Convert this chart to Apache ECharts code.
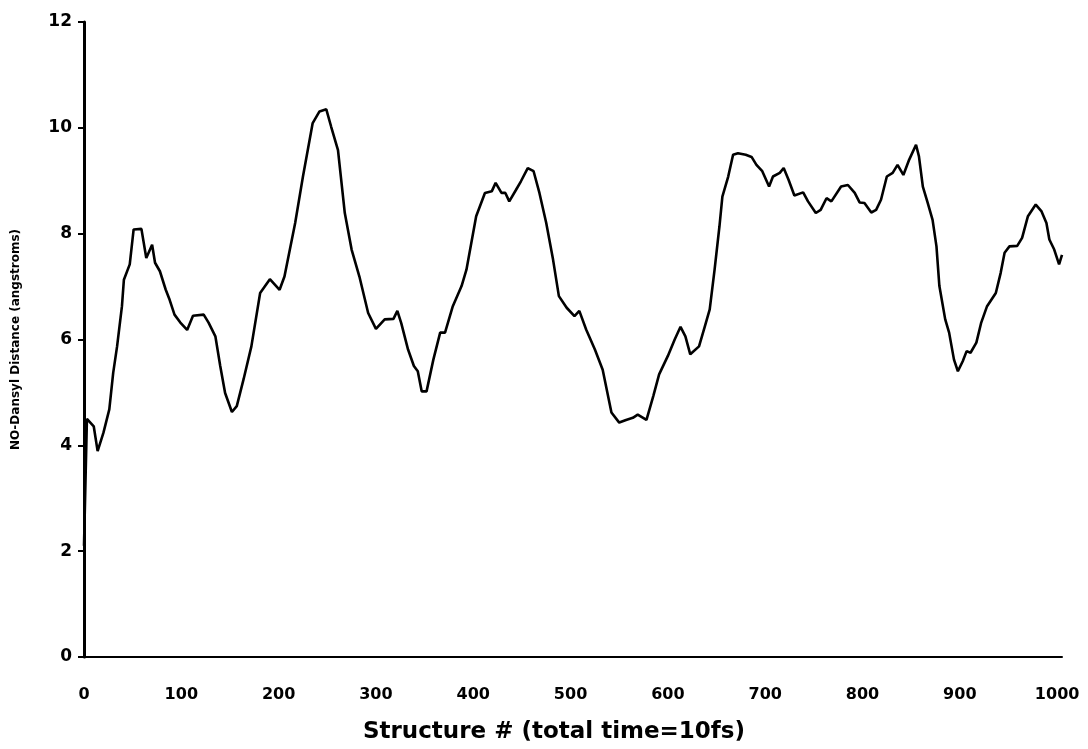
<!DOCTYPE html>
<html>
<head>
<meta charset="utf-8">
<script src="https://cdn.jsdelivr.net/npm/echarts@6/dist/echarts.min.js"></script>
<style>
html,body{margin:0;padding:0;background:#fff;}
#chart{width:1088px;height:749px;}
</style>
</head>
<body>
<div id="chart"></div>
<script>
var structureNums = [0,3,4,10,14,20,26,30,34,39,41,47,51,59,64,70,73,78,84,88,93,99,106,112,123,128,135,140,145,152,157,164,172,181,191,201,206,217,225,235,242,249,254,261,268,275,283,292,300,309,318,322,326,333,339,343,347,352,359,366,371,379,388,393,403,412,419,423,429,433,437,444,449,456,462,468,475,482,488,496,504,509,516,525,533,542,550,557,564,569,578,585,591,600,607,613,618,623,632,638,643,648,653,656,662,667,672,680,686,691,697,704,708,715,719,724,730,739,744,752,757,763,768,778,785,792,797,802,809,814,819,825,831,836,842,848,855,858,862,867,872,876,879,885,889,894,898,903,907,911,917,922,928,937,942,946,951,959,964,970,978,984,989,992,997,1002,1005];
var distances = [2.1,4.5,4.52,4.36,3.89,4.24,4.68,5.37,5.87,6.63,7.13,7.42,8.08,8.09,7.54,7.79,7.45,7.29,6.94,6.75,6.47,6.32,6.18,6.45,6.47,6.32,6.06,5.50,4.99,4.63,4.74,5.25,5.87,6.88,7.14,6.94,7.19,8.2,9.08,10.09,10.31,10.35,10.02,9.58,8.39,7.7,7.19,6.5,6.2,6.38,6.39,6.54,6.31,5.81,5.5,5.4,5.02,5.02,5.62,6.13,6.13,6.63,7.01,7.32,8.33,8.77,8.8,8.96,8.77,8.77,8.61,8.83,8.99,9.24,9.18,8.77,8.2,7.51,6.82,6.6,6.44,6.54,6.19,5.81,5.43,4.62,4.43,4.48,4.52,4.58,4.48,4.93,5.34,5.69,6.0,6.24,6.06,5.72,5.87,6.25,6.57,7.32,8.14,8.7,9.08,9.49,9.52,9.49,9.45,9.3,9.18,8.89,9.08,9.15,9.24,9.02,8.72,8.78,8.61,8.39,8.45,8.67,8.61,8.89,8.92,8.77,8.59,8.58,8.4,8.45,8.64,9.08,9.15,9.3,9.11,9.4,9.68,9.46,8.89,8.58,8.26,7.76,7.01,6.38,6.13,5.62,5.4,5.59,5.78,5.75,5.94,6.32,6.63,6.88,7.26,7.64,7.76,7.77,7.92,8.33,8.55,8.42,8.2,7.89,7.7,7.42,7.6];
var xTitle = 'Structure # (total time=10fs)';
var yTitle = 'NO-Dansyl Distance (angstroms)';

var pts = structureNums.map(function(x,i){return [x, distances[i]];});
var chart = echarts.init(document.getElementById('chart'));
var lbl = {color:'#000', fontFamily:'DejaVu Sans, Liberation Sans, sans-serif', fontWeight:'bold'};
chart.setOption({
  animation:false,
  backgroundColor:'#fff',
  grid:{left:84, right:26, top:22, bottom:91, containLabel:false},
  xAxis:{
    type:'value', min:0, max:1005, interval:100,
    axisLine:{show:true, lineStyle:{color:'#000', width:2}},
    axisTick:{show:false},
    splitLine:{show:false},
    axisLabel:Object.assign({fontSize:16, margin:30, showMaxLabel:false, formatter:function(v){return v%100===0 && v<=1000 ? String(v) : '';}}, lbl),
    name:xTitle, nameLocation:'middle', nameGap:64,
    nameTextStyle:Object.assign({fontSize:23, padding:[0,38,0,0]}, lbl)
  },
  yAxis:{
    type:'value', min:0, max:12, interval:2,
    axisLine:{show:true, lineStyle:{color:'#000', width:3}},
    axisTick:{show:true, inside:false, length:6, lineStyle:{color:'#000', width:2}},
    splitLine:{show:false},
    axisLabel:Object.assign({fontSize:17, margin:12}, lbl),
    name:yTitle, nameLocation:'middle', nameGap:62,
    nameTextStyle:Object.assign({fontSize:12}, lbl)
  },
  series:[{
    type:'line', data:pts, showSymbol:false, symbol:'none',
    lineStyle:{color:'#000', width:2.6}, smooth:false, clip:true
  }]
});
</script>
</body>
</html>
